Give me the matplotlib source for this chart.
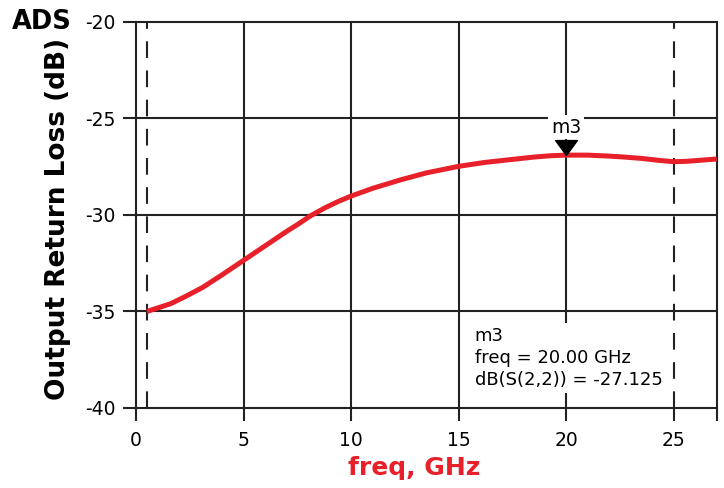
import matplotlib
matplotlib.use("Agg")
import matplotlib.pyplot as plt
from matplotlib.path import Path

plt.rcParams['font.family'] = ['DejaVu Sans']
plt.rcParams['axes.unicode_minus'] = False

# data
freq_ghz = [0.5, 1.0, 1.6, 2.3, 3.1, 4.0, 5.0, 5.6, 6.2, 7.0, 7.5, 8.1, 8.8,
            9.4, 10.0, 11.0, 12.3, 13.5, 15.0, 16.2, 17.5, 18.5, 19.3, 20.0,
            21.0, 22.0, 22.7, 23.5, 24.3, 25.0, 25.6, 26.3, 27.0]
s22_db = [-35.0, -34.82, -34.6, -34.22, -33.75, -33.1, -32.35, -31.9, -31.45,
          -30.85, -30.5, -30.05, -29.62, -29.3, -29.02, -28.62, -28.18, -27.82,
          -27.48, -27.28, -27.12, -27.0, -26.93, -26.9, -26.9, -26.95, -27.0,
          -27.07, -27.17, -27.24, -27.22, -27.16, -27.1]
x_ticks = [0, 5, 10, 15, 20, 25]
y_ticks = [-40, -35, -30, -25, -20]
marker_freq = 20.0
marker_val = -26.9
marker_text = "m3\nfreq = 20.00 GHz\ndB(S(2,2)) = -27.125"
dashed_x = [0.5, 25.0]

ink = '#222222'
red = '#e8202a'

fig = plt.figure(figsize=(7.24, 4.88), dpi=100)
ax = fig.add_axes([0.188, 0.164, 0.802, 0.791])
ax.set_xlim(0, 27)
ax.set_ylim(-40, -20)

for v in [5, 10, 15, 20]:
    ax.axvline(v, color=ink, lw=1.5, zorder=1)
for v in [-35, -30, -25]:
    ax.axhline(v, color=ink, lw=1.5, zorder=1)
for v in dashed_x:
    ax.axvline(v, color=ink, lw=1.5, dashes=(8, 6), zorder=1)

ax.plot(freq_ghz, s22_db, color=red, lw=3.6, solid_capstyle='butt',
        solid_joinstyle='round', zorder=3)

for s in ax.spines.values():
    s.set_color(ink)
    s.set_linewidth(1.5)

ax.set_xticks(x_ticks)
ax.set_yticks(y_ticks)
ax.set_xticks([27], minor=True)
ax.tick_params(axis='both', which='both', direction='out', length=9.5, width=1.5,
               color=ink, labelsize=13.5, labelcolor='black', pad=5)
ax.tick_params(axis='x', which='both', pad=7)
ax.tick_params(axis='x', which='minor', labelbottom=False)

ax.set_ylabel("Output Return Loss (dB)", fontsize=19, fontweight='bold')
ax.yaxis.set_label_coords(-0.112, 0.49)
ax.set_xlabel("freq, GHz", fontsize=18, fontweight='bold', color=red)
ax.xaxis.set_label_coords(0.4795, -0.125)

fig.text(0.016, 0.955, "ADS", fontsize=18.5, fontweight='bold', va='center', ha='left')

# marker triangle with tip on the curve
tri = Path([(-0.73, 1.0), (0.73, 1.0), (0.0, 0.0), (-0.73, 1.0)],
           [Path.MOVETO, Path.LINETO, Path.LINETO, Path.CLOSEPOLY])
ax.plot([marker_freq], [marker_val], marker=tri, markersize=21.5, color='black',
        linestyle='none', zorder=5)
ax.text(marker_freq, -25.45, "m3", fontsize=13.5, ha='center', va='center', zorder=4,
        bbox=dict(boxstyle='square,pad=0.15', fc='white', ec='none'))

ax.text(15.75, -35.8, marker_text, fontsize=13, ha='left', va='top',
        linespacing=1.3, zorder=4,
        bbox=dict(boxstyle='square,pad=0.2', fc='white', ec='none'))

fig.savefig("out.png", dpi=100)
